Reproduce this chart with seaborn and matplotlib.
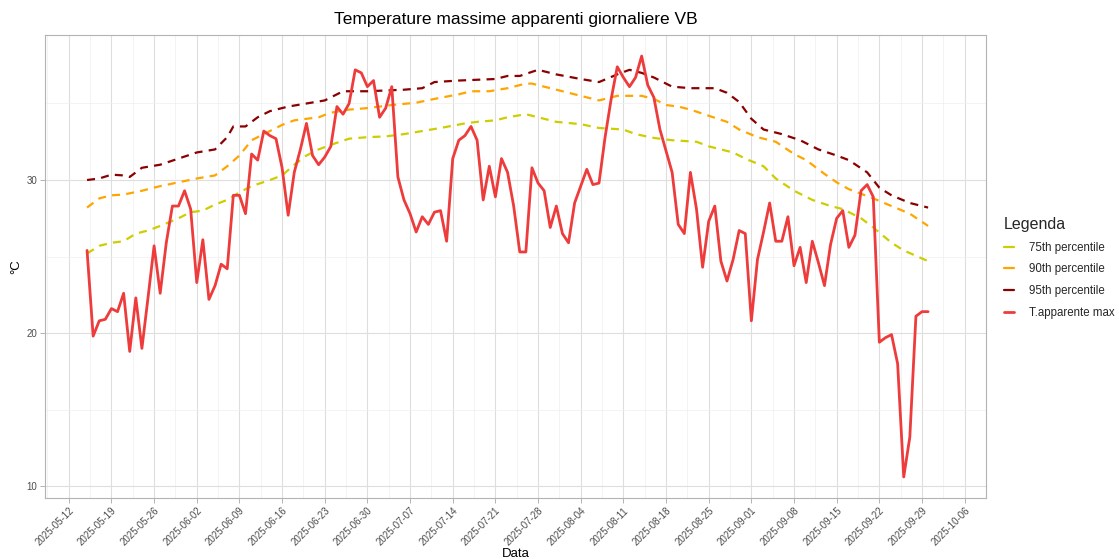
import numpy as np
import pandas as pd
import matplotlib
matplotlib.use("Agg")
import matplotlib.pyplot as plt
import matplotlib.dates as mdates
from matplotlib.lines import Line2D
import seaborn as sns

# ---------------- data ----------------
start_date = "2025-05-15"
t_app_max = [
    25.4, 19.8, 20.8, 20.9, 21.6, 21.4, 22.6, 18.8, 22.3, 19.0,
    22.3, 25.7, 22.6, 25.9, 28.3, 28.3, 29.3, 28.1, 23.3, 26.1,
    22.2, 23.1, 24.5, 24.2, 29.0, 29.0, 27.8, 31.7, 31.3, 33.2,
    32.9, 32.7, 30.8, 27.7, 30.5, 32.0, 33.7, 31.6, 31.0, 31.5,
    32.2, 34.8, 34.3, 35.0, 37.2, 37.0, 36.1, 36.5, 34.1, 34.7,
    36.1, 30.2, 28.7, 27.8, 26.6, 27.6, 27.1, 27.9, 28.0, 26.0,
    31.4, 32.6, 32.9, 33.5, 32.6, 28.7, 30.9, 28.9, 31.4, 30.5,
    28.3, 25.3, 25.3, 30.8, 29.8, 29.3, 26.9, 28.3, 26.5, 25.9,
    28.5, 29.6, 30.7, 29.7, 29.8, 32.8, 35.3, 37.4, 36.7, 36.1,
    36.7, 38.1, 36.2, 35.4, 33.3, 31.9, 30.5, 27.1, 26.5, 30.5,
    28.1, 24.3, 27.3, 28.3, 24.7, 23.4, 24.8, 26.7, 26.5, 20.8,
    24.8, 26.6, 28.5, 26.0, 26.0, 27.6, 24.4, 25.6, 23.3, 26.0,
    24.6, 23.1, 25.8, 27.5, 28.0, 25.6, 26.4, 29.3, 29.7, 28.9,
    19.4, 19.7, 19.9, 18.0, 10.6, 13.2, 21.1, 21.4, 21.4,
]

# percentile curves: day offsets from start_date and values
p95_day = [0, 2, 4, 6, 7, 9, 12, 15, 18, 21, 23, 24, 26, 28, 30, 33, 36, 39, 42,
           46, 52, 55, 57, 61, 67, 69, 71, 74, 77, 81, 84, 87, 89, 91, 93, 96,
           99, 103, 105, 107, 109, 111, 114, 117, 120, 123, 125, 128, 130, 132,
           135, 138]
p95_val = [30.0, 30.1, 30.35, 30.3, 30.2, 30.8, 31.0, 31.4, 31.8, 32.0, 32.8,
           33.5, 33.5, 34.1, 34.5, 34.8, 35.0, 35.2, 35.8, 35.8, 35.9, 36.0,
           36.4, 36.5, 36.6, 36.8, 36.8, 37.2, 36.9, 36.6, 36.4, 36.9, 37.2,
           37.0, 36.7, 36.1, 36.0, 36.0, 35.7, 35.1, 34.0, 33.3, 33.0, 32.6,
           32.0, 31.6, 31.3, 30.5, 29.5, 29.0, 28.5, 28.2]

p90_day = [0, 2, 4, 6, 9, 12, 15, 18, 21, 23, 25, 27, 30, 32, 34, 36, 38, 40,
           43, 46, 50, 54, 57, 61, 63, 66, 69, 72, 73, 76, 79, 81, 84, 87, 91,
           93, 95, 97, 99, 102, 105, 107, 110, 113, 116, 118, 121, 123, 125,
           129, 132, 135, 138]
p90_val = [28.2, 28.8, 29.0, 29.05, 29.3, 29.6, 29.85, 30.1, 30.3, 30.9, 31.6,
           32.6, 33.2, 33.6, 33.9, 34.0, 34.1, 34.4, 34.6, 34.7, 34.9, 35.05,
           35.3, 35.6, 35.8, 35.8, 36.0, 36.3, 36.3, 36.0, 35.7, 35.5, 35.2,
           35.5, 35.5, 35.3, 34.9, 34.8, 34.6, 34.2, 33.8, 33.3, 32.8, 32.5,
           31.7, 31.3, 30.4, 29.85, 29.4, 28.8, 28.3, 27.8, 27.0]

p75_day = [0, 2, 4, 6, 8, 10, 12, 15, 17, 19, 21, 23, 25, 27, 30, 32, 34, 36,
           38, 40, 43, 46, 49, 52, 55, 58, 62, 64, 67, 69, 72, 74, 77, 81, 84,
           88, 90, 93, 96, 100, 102, 106, 108, 111, 113, 116, 119, 122, 124,
           127, 129, 132, 134, 138]
p75_val = [25.2, 25.7, 25.9, 26.0, 26.5, 26.7, 27.0, 27.5, 27.9, 28.0, 28.4,
           28.7, 29.2, 29.6, 30.0, 30.3, 31.0, 31.6, 32.0, 32.3, 32.7, 32.8,
           32.85, 33.0, 33.2, 33.4, 33.7, 33.8, 33.9, 34.1, 34.3, 34.1, 33.8,
           33.65, 33.4, 33.3, 33.0, 32.75, 32.6, 32.5, 32.2, 31.8, 31.4, 30.9,
           30.1, 29.3, 28.7, 28.3, 28.1, 27.5, 26.9, 25.9, 25.4, 24.7]

labels = ["75th percentile", "90th percentile", "95th percentile", "T.apparente max"]
colors = ["#CDCD00", "#FFA500", "#8B0000", "#EE3B3B"]

# ---------------- frames ----------------
t0 = pd.Timestamp(start_date)
df_obs = pd.DataFrame({"Data": t0 + pd.to_timedelta(np.arange(len(t_app_max)), unit="D"),
                       "val": t_app_max})
df_p = {
    labels[0]: pd.DataFrame({"Data": t0 + pd.to_timedelta(p75_day, unit="D"), "val": p75_val}),
    labels[1]: pd.DataFrame({"Data": t0 + pd.to_timedelta(p90_day, unit="D"), "val": p90_val}),
    labels[2]: pd.DataFrame({"Data": t0 + pd.to_timedelta(p95_day, unit="D"), "val": p95_val}),
}

# ---------------- figure ----------------
sns.set_theme(style="white")
plt.rcParams["font.family"] = ["Liberation Sans", "DejaVu Sans"]

fig = plt.figure(figsize=(11.19, 5.59), dpi=100)
W, H = 1119, 559
L, R, T, B = 45, 986, 35, 498
ax = fig.add_axes([L / W, 1 - B / H, (R - L) / W, (B - T) / H])

dash = (0, (3.6, 2.8))
for lab, col in zip(labels[:3], colors[:3]):
    sns.lineplot(data=df_p[lab], x="Data", y="val", ax=ax, color=col,
                 linewidth=1.6, linestyle=dash, legend=False)
sns.lineplot(data=df_obs, x="Data", y="val", ax=ax, color=colors[3],
             linewidth=2.0, legend=False)

# axes limits with 5% expansion (ggplot-like)
xmin, xmax = df_obs["Data"].min(), df_obs["Data"].max()
span = xmax - xmin
ax.set_xlim(xmin - 0.05 * span, xmax + 0.05 * span)
allv = np.concatenate([t_app_max, p75_val, p90_val, p95_val])
yr = allv.max() - allv.min()
ax.set_ylim(allv.min() - 0.05 * yr, allv.max() + 0.05 * yr)

# ticks & grid
ax.xaxis.set_major_locator(mdates.WeekdayLocator(byweekday=mdates.MO, interval=1))
ax.xaxis.set_major_formatter(mdates.DateFormatter("%Y-%m-%d"))
minor_days = pd.date_range("2025-05-08 12:00", "2025-10-10", freq="7D")
ax.set_xticks(mdates.date2num(minor_days.to_pydatetime()), minor=True)
ax.set_yticks([10, 20, 30])
ax.set_yticks([15, 25, 35], minor=True)
ax.grid(which="major", color="#DEDEDE", linewidth=0.8)
ax.grid(which="minor", color="#EFEFEF", linewidth=0.5)
ax.set_axisbelow(True)
for s in ax.spines.values():
    s.set_color("#B3B3B3")
    s.set_linewidth(0.8)
ax.tick_params(axis="both", which="major", length=3.5, width=0.7, color="#B3B3B3",
               labelsize=7, labelcolor="#4D4D4D", pad=2, bottom=True, left=True)
ax.tick_params(axis="both", which="minor", length=0)
for lbl in ax.get_xticklabels():
    lbl.set_rotation(45)
    lbl.set_ha("right")
    lbl.set_rotation_mode("anchor")

ax.set_xlabel("Data", fontsize=9.5, color="black", labelpad=0)
ax.set_ylabel("°C", fontsize=9.5, color="black", labelpad=3)
ax.set_title("Temperature massime apparenti giornaliere VB", fontsize=12.5,
             color="black", pad=8)

# legend
handles = [Line2D([0], [0], color=c, linewidth=2.0 if i == 3 else 1.6,
                  linestyle="-") for i, c in enumerate(colors)]
leg = ax.legend(handles, labels, title="Legenda", loc="center left",
                bbox_to_anchor=(1.008, 0.497), frameon=False, fontsize=8.3,
                title_fontsize=11.5, handlelength=0.9, handletextpad=1.3,
                labelspacing=0.85, alignment="left")
leg._legend_box.align = "left"

fig.savefig("out.png", dpi=100)
